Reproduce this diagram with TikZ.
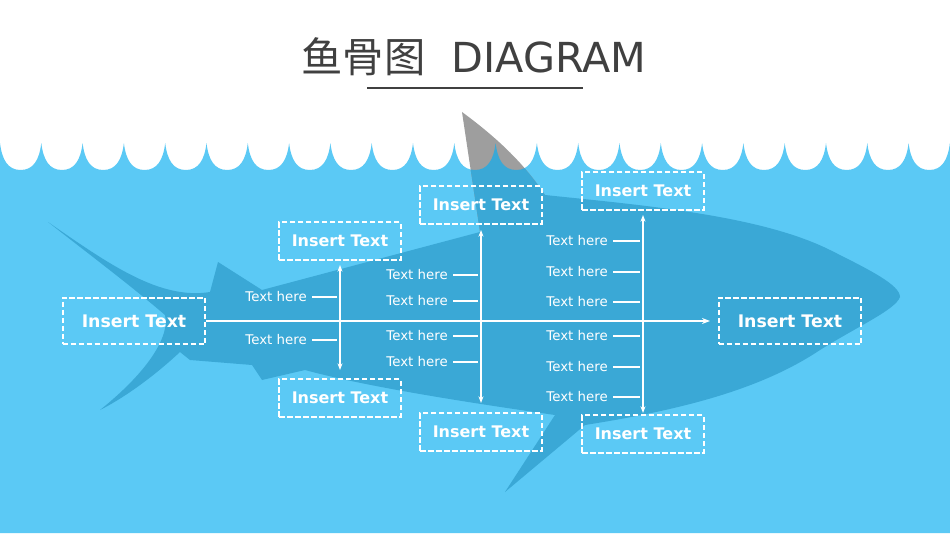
\documentclass[tikz,border=0pt]{standalone}
\usepackage{fontspec}
\setmainfont{DejaVu Sans}
\newfontfamily\cjk{Noto Sans CJK SC}
\usetikzlibrary{arrows.meta}
\definecolor{Sea}{HTML}{5BC9F5}
\definecolor{Shark}{HTML}{3AA8D6}
\definecolor{Fin}{HTML}{9E9E9E}
\definecolor{Title}{HTML}{404040}
\tikzset{
  box/.style={draw=white, dashed, dash pattern=on 4pt off 2pt, line width=1.5pt, text=white,
    font=\bfseries\fontsize{12}{14}\selectfont, minimum width=91pt, minimum height=28pt, inner sep=0pt},
  bigbox/.style={box, minimum width=107pt, minimum height=35pt, font=\bfseries\fontsize{13}{15}\selectfont},
  bone/.style={white, line width=1.2pt, {Stealth[length=5pt]}-{Stealth[length=5pt]}},
  tick/.style={white, line width=1pt},
  lbl/.style={text=white, font=\fontsize{10}{12}\selectfont, anchor=east, inner sep=0pt}
}
\newcommand{\wavepath}{(0,143) foreach \i in {0,...,22}{
  .. controls (\i*41.3+2,160) and (\i*41.3+8,170) .. (\i*41.3+20.65,170)
  .. controls (\i*41.3+33.3,170) and (\i*41.3+39.3,160) .. (\i*41.3+41.3,143)}
  -- (950,533) -- (0,533) -- cycle}
\begin{document}
\begin{tikzpicture}[x={(0.75pt,0)}, y={(0,-0.75pt)}]
 \useasboundingbox (0,0) rectangle (950,535);
 \fill[white] (0,0) rectangle (950,535);

 %%%%%%%%%% Title %%%%%%%%%%
 \node[text=Title, font=\fontsize{31}{36}\selectfont] (title) at (474,57) {{\cjk 鱼骨图}\ \ DIAGRAM};
 \draw[Title, line width=0.8pt] (367,88) -- (583,88);

 %%%%%%%%%% Sea %%%%%%%%%%
 \fill[Sea] \wavepath;
 \fill[Fin] (480,232) -- (462,112) .. controls (500,140) and (525,165) .. (545,195) -- cycle;

 %%%%%%%%%% Shark %%%%%%%%%%
 \begin{scope}
  \clip \wavepath;
  \fill[Shark] (48,222) .. controls (110,265) and (160,300) .. (210,292)
   -- (218,262) -- (262,290)
   -- (480,232) -- (462,112) .. controls (500,140) and (525,165) .. (545,195)
   .. controls (640,205) and (760,215) .. (830,250)
   .. controls (870,270) and (900,285) .. (900,297)
   .. controls (895,310) and (860,325) .. (820,350)
   .. controls (760,390) and (680,410) .. (585,425)
   -- (505,492) -- (555,415)
   .. controls (450,400) and (360,385) .. (305,370)
   -- (262,380) -- (252,365) -- (190,360) -- (180,352)
   .. controls (150,380) and (120,400) .. (100,410)
   .. controls (150,370) and (170,335) .. (165,315)
   .. controls (130,285) and (90,255) .. (48,222) -- cycle;
 \end{scope}

 %%%%%%%%%% Boxes %%%%%%%%%%
 \node[bigbox] (head) at (134,321) {Insert Text};
 \node[bigbox] (tail) at (790,321) {Insert Text};
 \node[box] (t1) at (340,241) {Insert Text};
 \node[box] (b1) at (340,398) {Insert Text};
 \node[box] (t2) at (481,205) {Insert Text};
 \node[box] (b2) at (481,432) {Insert Text};
 \node[box] (t3) at (643,191) {Insert Text};
 \node[box] (b3) at (643,434) {Insert Text};

 %%%%%%%%%% Bones %%%%%%%%%%
 \coordinate (spine) at (710,321);
 \draw[white, line width=1.2pt, -{Stealth[length=6pt]}] (head.east) -- (spine);
 \coordinate (u1) at (340,265); \coordinate (d1) at (340,370);
 \coordinate (u2) at (481,230); \coordinate (d2) at (481,403);
 \coordinate (u3) at (643,215); \coordinate (d3) at (643,413);
 \draw[bone] (u1) -- (d1);
 \draw[bone] (u2) -- (d2);
 \draw[bone] (u3) -- (d3);

 %%%%%%%%%% Labels %%%%%%%%%%
 \foreach \y [count=\k] in {297,340}{
  \node[lbl] (p\k) at (307,\y) {Text here};
  \coordinate (q\k) at (337,\y);
  \draw[tick] ([xshift=4pt]p\k.east) -- (q\k);
 }
 \foreach \y [count=\k] in {275,301,336,362}{
  \node[lbl] (r\k) at (448,\y) {Text here};
  \coordinate (s\k) at (478,\y);
  \draw[tick] ([xshift=4pt]r\k.east) -- (s\k);
 }
 \foreach \y [count=\k] in {241,272,302,336,367,397}{
  \node[lbl] (m\k) at (608,\y) {Text here};
  \coordinate (n\k) at (640,\y);
  \draw[tick] ([xshift=4pt]m\k.east) -- (n\k);
 }
\end{tikzpicture}
\end{document}
